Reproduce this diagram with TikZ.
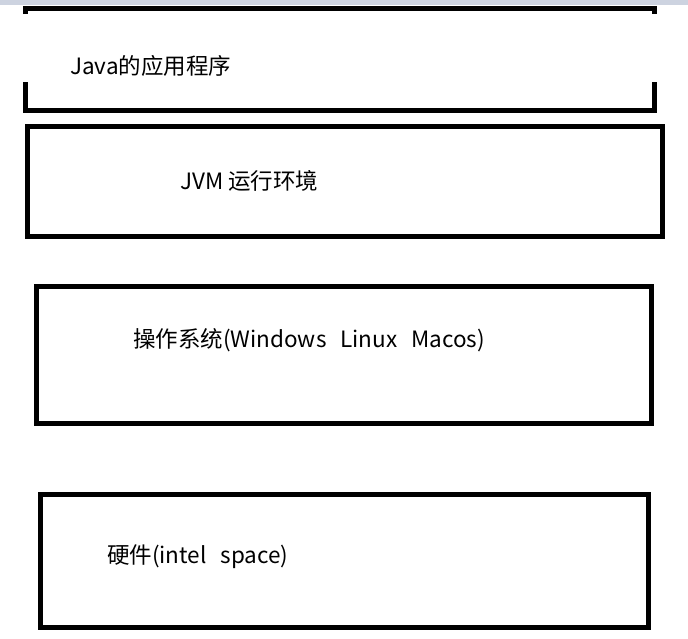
\documentclass[tikz,border=0pt]{standalone}
\usepackage{fontspec}
\setmainfont{Noto Sans CJK SC}
\definecolor{barblue}{RGB}{205,211,224}
\newcommand{\gap}{\hspace{0.62em}}
\tikzset{l/.style = {draw, line width=5pt, inner sep=0pt},
    t/.style = {anchor=west, inner sep=0pt, font=\fontsize{22.5}{26}\selectfont},
    e/.style = {line width=5pt}}

\begin{document}
\begin{tikzpicture}[x=1pt, y=-1pt]
        \useasboundingbox (0,0) rectangle (688,638);
        \fill[barblue] (0,0) rectangle (688,5);

        % top layer, sides only partly drawn
        \coordinate (p1) at (25.5,14);  \coordinate (p2) at (25.5,8);
        \coordinate (p3) at (654.5,8);  \coordinate (p4) at (654.5,14);
        \coordinate (q1) at (25.5,82);  \coordinate (q2) at (25.5,110);
        \coordinate (q3) at (654.5,110); \coordinate (q4) at (654.5,82);
        \draw[e] (p1) -- (p2) -- (p3) -- (p4);
        \draw[e] (q1) -- (q2) -- (q3) -- (q4);
        \node[t] (app) at (70,66) {Java的应用程序};

        \node[l, minimum width=635, minimum height=110] (jvm) at (344.5,181) {};
        \node[l, minimum width=615, minimum height=137] (os)  at (344,354.5) {};
        \node[l, minimum width=608, minimum height=133] (hw)  at (344,560.5) {};

        \node[t] (jvmtxt) at (180,181) {JVM 运行环境};
        \node[t] (ostxt)  at (133,340) {操作系统(Windows\gap Linux\gap Macos)};
        \node[t] (hwtxt)  at (107,557) {硬件(intel\gap space)};
    \end{tikzpicture}
\end{document}
